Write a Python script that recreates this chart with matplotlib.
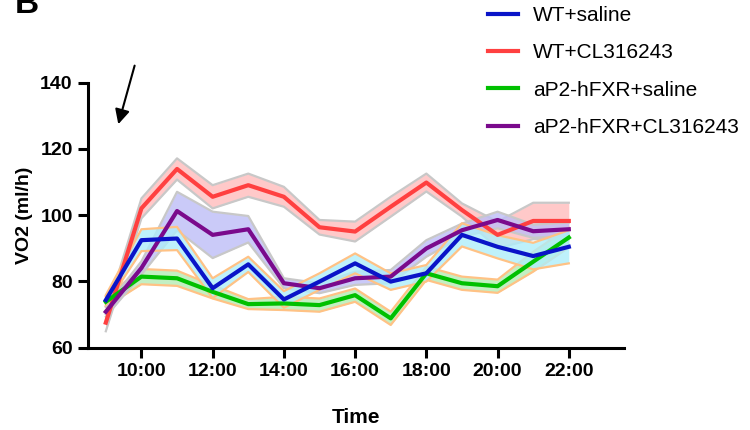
import numpy as np
import matplotlib
matplotlib.use('Agg')
import matplotlib.pyplot as plt

plt.rcParams['font.family'] = ['Liberation Sans', 'DejaVu Sans']

# hours of the day (9:00 .. 22:00)
hours = [9, 10, 11, 12, 13, 14, 15, 16, 17, 18, 19, 20, 21, 22]
tick_hours = [10, 12, 14, 16, 18, 20, 22]
tick_labels = ['10:00', '12:00', '14:00', '16:00', '18:00', '20:00', '22:00']

# mean VO2 (ml/h) and SEM per group
wt_saline = [74.3, 92.4, 92.9, 77.9, 85.1, 74.5, 79.9, 85.4, 79.9, 82.4, 94.0, 90.4, 87.6, 90.4]
wt_saline_sem = [1.5, 3.3, 3.5, 3.0, 2.3, 2.5, 2.5, 3.0, 2.5, 2.5, 3.5, 3.5, 4.0, 5.0]

wt_cl = [67.5, 102.0, 113.9, 105.5, 109.0, 105.5, 96.3, 95.0, 102.5, 109.8, 101.5, 94.0, 98.2, 98.2]
wt_cl_sem = [2.6, 3.0, 3.2, 3.5, 3.5, 3.0, 2.2, 3.0, 3.0, 2.7, 2.0, 4.0, 5.5, 5.5]

fxr_saline = [73.8, 81.4, 80.9, 76.8, 73.1, 73.3, 72.8, 75.8, 68.8, 82.4, 79.4, 78.5, 85.9, 93.2]
fxr_saline_sem = [1.5, 2.3, 2.3, 2.0, 1.5, 2.0, 2.0, 2.0, 2.0, 2.0, 2.0, 2.0, 3.0, 3.0]

fxr_cl = [70.8, 84.0, 101.2, 94.0, 95.7, 79.4, 77.9, 80.9, 81.4, 89.9, 95.4, 98.5, 95.1, 95.7]
fxr_cl_sem = [1.5, 2.0, 5.8, 7.0, 4.0, 1.5, 1.5, 2.0, 2.0, 2.5, 2.0, 2.5, 2.0, 2.0]

labels = ['WT+saline', 'WT+CL316243', 'aP2-hFXR+saline', 'aP2-hFXR+CL316243']

fig = plt.figure(figsize=(7.5, 4.3), dpi=100)
ax = fig.add_axes([88 / 750, 1 - 347.5 / 430, (624 - 88) / 750, (347.5 - 82.5) / 430])

x = np.array(hours)
groups = [
    (wt_saline, wt_saline_sem, '#0a14c8', '#aeeefb', '#ffc285', 4),
    (wt_cl, wt_cl_sem, '#ff4040', '#ffbcbc', '#c8c8c8', 1),
    (fxr_saline, fxr_saline_sem, '#00c000', '#b4ecb4', '#ffc285', 2),
    (fxr_cl, fxr_cl_sem, '#7a0a8c', '#bdbdf7', '#c8c8c8', 3),
]

for (m, s, col, fill, edge, z), lab in zip(groups, labels):
    m = np.array(m)
    s = np.array(s)
    ax.fill_between(x, m - s, m + s, color=fill, alpha=0.8, lw=0, zorder=z)
    ax.plot(x, m + s, color=edge, lw=1.6, zorder=z + 0.1)
    ax.plot(x, m - s, color=edge, lw=1.6, zorder=z + 0.1)

for (m, s, col, fill, edge, z), lab in zip(groups, labels):
    ax.plot(x, m, color=col, lw=3, label=lab, zorder=10 + z)

ax.set_xlim(8.5, 23.55)
ax.set_ylim(60, 140)
ax.set_yticks([60, 80, 100, 120, 140])
ax.set_xticks(tick_hours)
ax.set_xticklabels(tick_labels)

for sp in ['top', 'right']:
    ax.spines[sp].set_visible(False)
for sp in ['left', 'bottom']:
    ax.spines[sp].set_linewidth(2.2)
ax.tick_params(axis='both', width=2.2, length=7, labelsize=14, pad=4)
for t in ax.get_xticklabels() + ax.get_yticklabels():
    t.set_fontweight('bold')

ax.set_ylabel('VO2 (ml/h)', fontsize=14, fontweight='bold', labelpad=5)
ax.set_xlabel('Time', fontsize=15, fontweight='bold', labelpad=20)

leg = fig.legend(loc='upper left', bbox_to_anchor=(488 / 750, 1 - 6 / 430), frameon=False,
                 borderpad=0, borderaxespad=0,
                 fontsize=15, handlelength=1.45, handletextpad=0.72, labelspacing=0.88)
for h in leg.get_lines():
    h.set_linewidth(3)

# injection arrow
ax.annotate('', xy=(9.33, 126.6), xytext=(9.83, 145.9),
            arrowprops=dict(arrowstyle='-|>', color='black', lw=1.5,
                            mutation_scale=22),
            annotation_clip=False)

fig.text(15 / 750, 1 - 13 / 430, 'B', fontsize=24, fontweight='bold', va='baseline')

fig.savefig('out.png', dpi=100)
